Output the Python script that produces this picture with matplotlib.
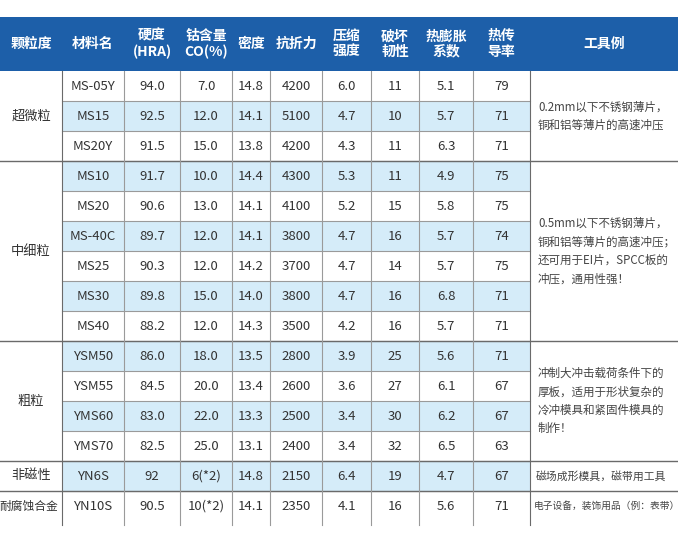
import matplotlib
matplotlib.use("Agg")
import matplotlib.pyplot as plt
from matplotlib.patches import Rectangle

plt.rcParams["font.family"] = ["Noto Sans CJK SC"]

headers = ["颗粒度", "材料名", "硬度\n(HRA)", "钴含量\nCO(%)", "密度", "抗折力", "压缩\n强度", "破坏\n韧性", "热膨胀\n系数", "热传\n导率", "工具例"]
groups = ["超微粒", "中细粒", "粗粒", "非磁性", "耐腐蚀合金"]
group_sizes = [3, 6, 4, 1, 1]
names = ["MS-05Y", "MS15", "MS20Y", "MS10", "MS20", "MS-40C", "MS25", "MS30", "MS40",
         "YSM50", "YSM55", "YMS60", "YMS70", "YN6S", "YN10S"]
hardness = ["94.0", "92.5", "91.5", "91.7", "90.6", "89.7", "90.3", "89.8", "88.2",
            "86.0", "84.5", "83.0", "82.5", "92", "90.5"]
cobalt = ["7.0", "12.0", "15.0", "10.0", "13.0", "12.0", "12.0", "15.0", "12.0",
          "18.0", "20.0", "22.0", "25.0", "6(*2)", "10(*2)"]
density = ["14.8", "14.1", "13.8", "14.4", "14.1", "14.1", "14.2", "14.0", "14.3",
           "13.5", "13.4", "13.3", "13.1", "14.8", "14.1"]
bending = ["4200", "5100", "4200", "4300", "4100", "3800", "3700", "3800", "3500",
           "2800", "2600", "2500", "2400", "2150", "2350"]
compress = ["6.0", "4.7", "4.3", "5.3", "5.2", "4.7", "4.7", "4.7", "4.2",
            "3.9", "3.6", "3.4", "3.4", "6.4", "4.1"]
toughness = ["11", "10", "11", "11", "15", "16", "14", "16", "16",
             "25", "27", "30", "32", "19", "16"]
expansion = ["5.1", "5.7", "6.3", "4.9", "5.8", "5.7", "5.7", "6.8", "5.7",
             "5.6", "6.1", "6.2", "6.5", "4.7", "5.6"]
conduct = ["79", "71", "71", "75", "75", "74", "75", "71", "71",
           "71", "67", "67", "63", "67", "71"]
tools = ["0.2mm以下不锈钢薄片，\n铜和铝等薄片的高速冲压",
         "0.5mm以下不锈钢薄片，\n铜和铝等薄片的高速冲压；\n还可用于EI片，SPCC板的\n冲压，通用性强！",
         "冲制大冲击载荷条件下的\n厚板，适用于形状复杂的\n冷冲模具和紧固件模具的\n制作！",
         "磁场成形模具，磁带用工具",
         "电子设备，装饰用品（例：表带）"]

cols = [names, hardness, cobalt, density, bending, compress, toughness, expansion, conduct]
xs = [0, 62, 124, 180, 232, 270, 322, 371, 419, 473, 530, 678]
top, head_bot, rh = 17, 71, 30

fig = plt.figure(figsize=(6.78, 5.5), dpi=100)
ax = fig.add_axes([0, 0, 1, 1])
ax.set_xlim(0, 678); ax.set_ylim(550, 0); ax.axis("off")

blue = "#1d5fa9"; light = "#d5ecf9"; line = "#9a9a9a"; dark = "#6a6a6a"; txt = "#333333"
ax.add_patch(Rectangle((0, top), 678, head_bot - top, color=blue, lw=0))
for i, h in enumerate(headers):
    ax.text((xs[i] + xs[i + 1]) / 2, (top + head_bot) / 2, h, color="white", fontsize=10,
            fontweight="bold", ha="center", va="center", linespacing=1.15)

n = len(names)
for r in range(n):
    y0 = head_bot + r * rh
    if r % 2 == 1:
        ax.add_patch(Rectangle((xs[1], y0), xs[10] - xs[1], rh, color=light, lw=0))
    for c, col in enumerate(cols):
        ax.text((xs[c + 1] + xs[c + 2]) / 2, y0 + rh / 2, col[r], fontsize=9.5, color=txt,
                ha="center", va="center")
    if r > 0:
        ax.plot([xs[1], xs[10]], [y0, y0], color=line, lw=0.8)

start = 0
for gi, (g, size, tool) in enumerate(zip(groups, group_sizes, tools)):
    y0 = head_bot + start * rh; y1 = y0 + size * rh
    fs = 8.5 if g == "耐腐蚀合金" else 9.5
    ax.text(xs[0] + (xs[1] - xs[0]) / 2 + (-2 if g == "耐腐蚀合金" else 0), (y0 + y1) / 2, g,
            fontsize=fs, color=txt, ha="center", va="center")
    if gi == len(groups) - 1:
        tfs, tx = 7.0, xs[10] + 4
    elif size == 1:
        tfs, tx = 7.8, xs[10] + 6
    else:
        tfs, tx = 8.3, xs[10] + 8
    ax.text(tx, (y0 + y1) / 2, tool, fontsize=tfs, color="#444444", ha="left",
            va="center", linespacing=1.55)
    if gi < len(groups) - 1:
        ax.plot([0, 678], [y1, y1], color=dark, lw=1.0)
    start += size

bottom = head_bot + n * rh
for x in xs[1:-1]:
    ax.plot([x, x], [head_bot, bottom + 4], color=dark if x in (62, 530) else line, lw=0.8)

fig.savefig("out.png", dpi=100, facecolor="white")
